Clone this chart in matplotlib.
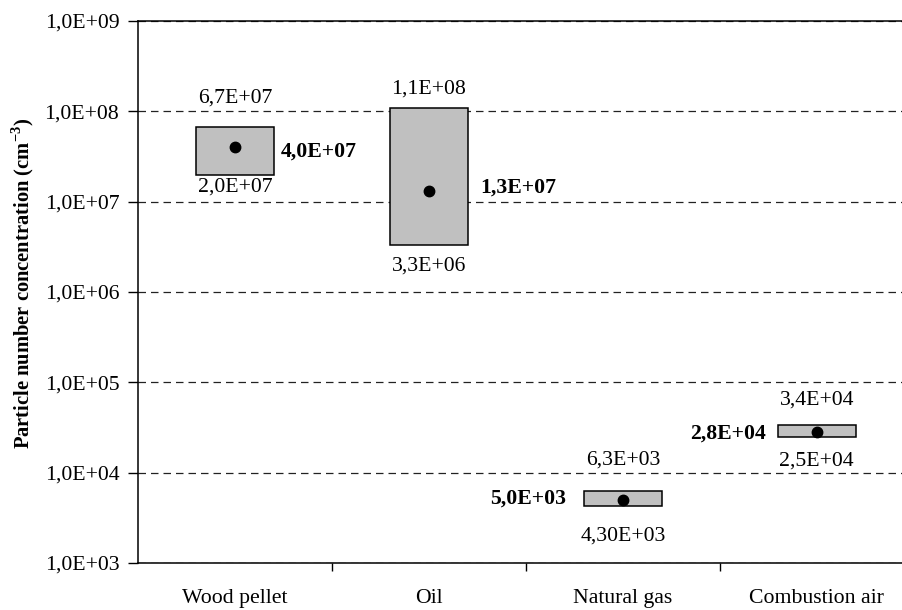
import math
import matplotlib
matplotlib.use("Agg")
import matplotlib.pyplot as plt
from matplotlib.ticker import FixedLocator, FuncFormatter, NullLocator

# data
categories = ["Wood pellet", "Oil", "Natural gas", "Combustion air"]
min_vals = [2.0e7, 3.3e6, 4.3e3, 2.5e4]
max_vals = [6.7e7, 1.1e8, 6.3e3, 3.4e4]
mean_vals = [4.0e7, 1.3e7, 5.0e3, 2.8e4]
min_labels = ["2,0E+07", "3,3E+06", "4,30E+03", "2,5E+04"]
max_labels = ["6,7E+07", "1,1E+08", "6,3E+03", "3,4E+04"]
mean_labels = ["4,0E+07", "1,3E+07", "5,0E+03", "2,8E+04"]

# label placement (pixels), as positioned in the original chart
max_gap = [29, 19, 31, 25]
min_gap = [13, 21, 30, 24]
mean_side = ["right", "right", "left", "left"]
mean_gap = [7, 13, 18, 12]
mean_dy = [-4, 4, 1, -1]

FS = 15.7

plt.rcParams["font.family"] = ["Liberation Serif", "DejaVu Serif"]
plt.rcParams["mathtext.fontset"] = "custom"
plt.rcParams["mathtext.rm"] = "Liberation Serif"
plt.rcParams["mathtext.bf"] = "Liberation Serif:bold"

fig = plt.figure(figsize=(9.02, 6.10), dpi=100)
# right edge runs past the figure, like the cropped original
ax = fig.add_axes([0.153, 0.077, 0.860, 0.8885])

box_w = 0.4
x = list(range(len(categories)))
heights = [hi - lo for lo, hi in zip(min_vals, max_vals)]
ax.bar(x, heights, bottom=min_vals, width=box_w, color="#c0c0c0",
       edgecolor="black", linewidth=1.1, zorder=3)
ax.plot(x, mean_vals, "o", color="black", markersize=7.5, zorder=4)

for i in x:
    ax.annotate(max_labels[i], xy=(i, max_vals[i]), xytext=(0, max_gap[i]),
                textcoords="offset pixels", ha="center", va="center", fontsize=FS)
    ax.annotate(min_labels[i], xy=(i, min_vals[i]), xytext=(0, -min_gap[i]),
                textcoords="offset pixels", ha="center", va="center", fontsize=FS)
    if mean_side[i] == "right":
        ax.annotate(mean_labels[i], xy=(i + box_w / 2, mean_vals[i]),
                    xytext=(mean_gap[i], mean_dy[i]), textcoords="offset pixels",
                    ha="left", va="center", fontsize=FS, fontweight="bold")
    else:
        ax.annotate(mean_labels[i], xy=(i - box_w / 2, mean_vals[i]),
                    xytext=(-mean_gap[i], mean_dy[i]), textcoords="offset pixels",
                    ha="right", va="center", fontsize=FS, fontweight="bold")

ax.set_yscale("log")
ax.set_ylim(1e3, 1e9)
ax.set_xlim(-0.5, len(categories) - 0.5)

ax.yaxis.set_major_locator(FixedLocator([10.0 ** k for k in range(3, 10)]))
ax.yaxis.set_minor_locator(NullLocator())


def sci_comma(v, pos):
    exp = int(round(math.log10(v)))
    return "1,0E+%02d" % exp


ax.yaxis.set_major_formatter(FuncFormatter(sci_comma))
ax.tick_params(axis="y", which="major", direction="out", length=7.5, width=1,
               pad=6, labelsize=FS)

ax.set_xticks(x)
ax.set_xticklabels(categories)
ax.set_xticks([i + 0.5 for i in x[:-1]], minor=True)
ax.tick_params(axis="x", which="major", length=0, pad=19, labelsize=FS)
ax.tick_params(axis="x", which="minor", direction="out", length=6, width=1)

ax.set_axisbelow(True)
ax.yaxis.grid(True, linestyle=(0, (6, 4)), color="#222222", linewidth=0.9)

for side in ["left", "bottom", "top"]:
    ax.spines[side].set_linewidth(1.1)
ax.spines["right"].set_visible(False)

fig.text(23 / 902, 1 - 283 / 610,
         r"Particle number concentration (cm$^{\mathbf{-3}}$)",
         rotation=90, ha="center", va="center", fontsize=14.8, fontweight="bold")

fig.savefig("out.png", dpi=100)
